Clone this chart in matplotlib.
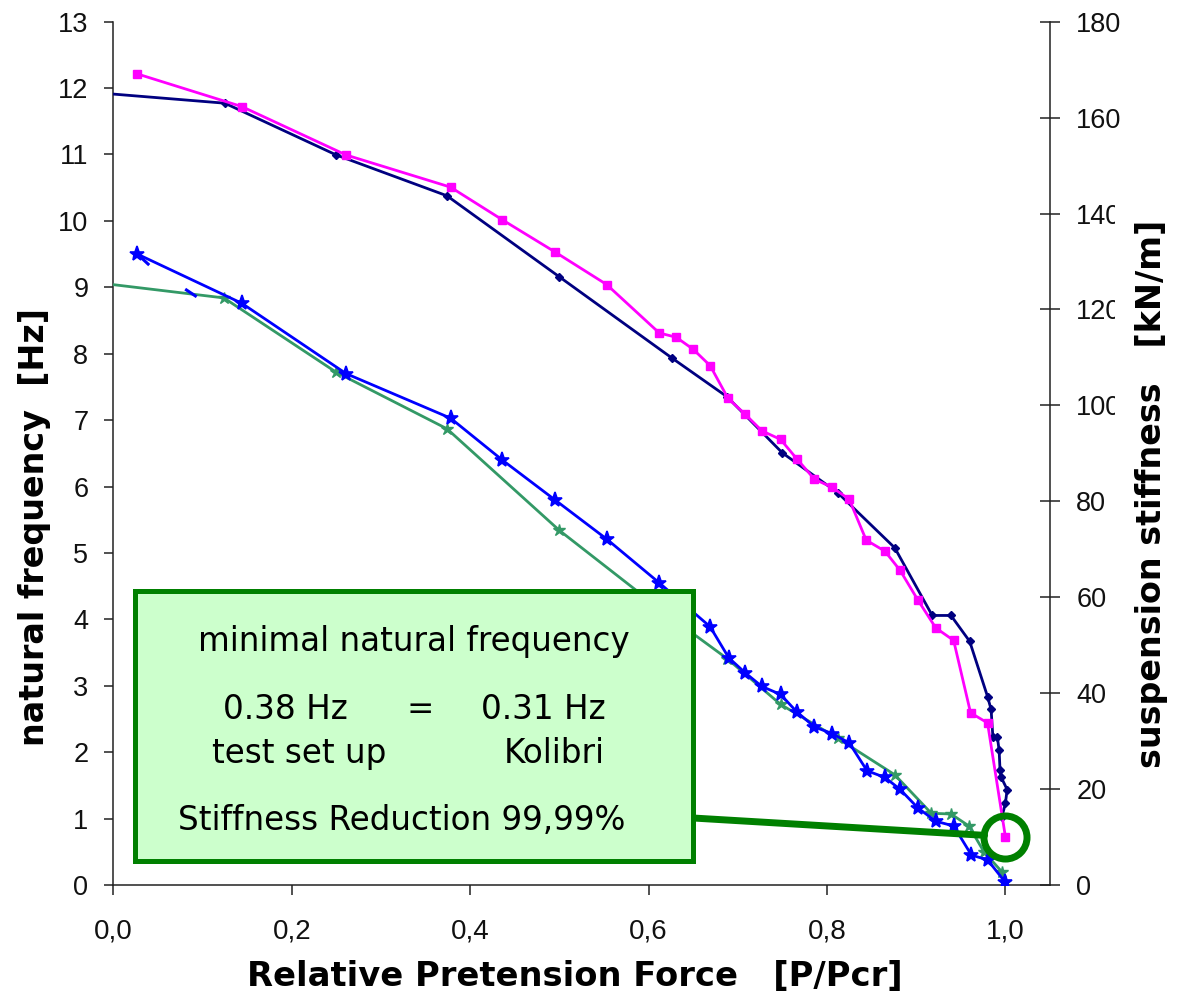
import numpy as np
import matplotlib
matplotlib.use("Agg")
import matplotlib.pyplot as plt
from matplotlib.patches import Rectangle
from matplotlib.ticker import FuncFormatter

# ---- data -------------------------------------------------------------
# natural frequency [Hz], left axis
freq_test_x = [0.027, 0.144, 0.261, 0.378, 0.436, 0.495, 0.553, 0.612, 0.669, 0.690,
               0.708, 0.727, 0.748, 0.766, 0.786, 0.806, 0.825, 0.845, 0.865, 0.882,
               0.902, 0.922, 0.942, 0.962, 0.980, 1.000]
freq_test_y = [9.50, 8.76, 7.70, 7.03, 6.40, 5.80, 5.21, 4.55, 3.89, 3.42,
               3.20, 2.99, 2.87, 2.61, 2.38, 2.28, 2.14, 1.72, 1.62, 1.44,
               1.16, 0.96, 0.89, 0.45, 0.38, 0.04]
freq_stub_x = [0.027, 0.039, np.nan, 0.082, 0.092]
freq_stub_y = [9.50, 9.35, np.nan, 8.96, 8.87]

freq_calc_x = [0.000, 0.124, 0.250, 0.374, 0.500, 0.625, 0.688, 0.748, 0.812, 0.876,
               0.917, 0.939, 0.959, 0.976, 0.996, 1.000]
freq_calc_y = [9.04, 8.84, 7.72, 6.87, 5.34, 4.03, 3.41, 2.72, 2.21, 1.66,
               1.08, 1.07, 0.89, 0.50, 0.20, 0.05]

# suspension stiffness [kN/m], right axis
stiff_test_x = [0.027, 0.144, 0.261, 0.378, 0.436, 0.495, 0.553, 0.612, 0.631, 0.650,
                0.669, 0.689, 0.708, 0.727, 0.748, 0.766, 0.786, 0.806, 0.825, 0.844,
                0.865, 0.882, 0.902, 0.922, 0.942, 0.961, 0.980, 1.000]
stiff_test_y = [169.1, 162.3, 152.2, 145.5, 138.7, 132.0, 125.2, 115.1, 114.2, 111.7,
                108.3, 101.5, 98.2, 94.7, 92.9, 88.9, 84.6, 82.9, 80.4, 71.9,
                69.6, 65.6, 59.4, 53.6, 51.0, 35.9, 33.8, 10.1]

stiff_calc_x = [0.000, 0.125, 0.250, 0.374, 0.500, 0.626, 0.688, 0.750, 0.812, 0.876,
                0.918, 0.939, 0.960, 0.980, 0.984, 0.986, 0.991, 0.993, 0.994, 0.995,
                1.002, 1.000, 0.996]
stiff_calc_y = [164.9, 163.0, 152.2, 143.7, 126.8, 109.9, 101.8, 90.1, 81.8, 70.3,
                56.2, 56.2, 50.8, 39.3, 36.6, 30.9, 30.9, 28.1, 24.0, 22.6,
                19.9, 17.0, 14.1]

x_ticks = [0.0, 0.2, 0.4, 0.6, 0.8, 1.0]
freq_ticks = list(range(0, 14))
stiff_ticks = list(range(0, 181, 20))

# ---- styling ------------------------------------------------------------
plt.rcParams["font.family"] = ["Liberation Sans", "DejaVu Sans"]
TEXT_FONT = ["DejaVu Sans"]
C_PINK = "#FF00FF"
C_NAVY = "#000080"
C_BLUE = "#0000FF"
C_GREEN = "#339966"
C_BOX = "#008000"
AX_COL = "#222222"

fig = plt.figure(figsize=(11.84, 9.98), dpi=100)
ax = fig.add_axes([0.0957, 0.1132, 0.7911, 0.8651])
ax2 = ax.twinx()

# frequency curves
ax.plot(freq_calc_x, freq_calc_y, color=C_GREEN, lw=2.0, marker="*", ms=9,
        mec=C_GREEN, mfc=C_GREEN, markevery=list(range(1, len(freq_calc_x))), zorder=3)
ax.plot(freq_stub_x, freq_stub_y, color=C_BLUE, lw=2.2, zorder=4)
ax.plot(freq_test_x, freq_test_y, color=C_BLUE, lw=2.0, marker="*", ms=11,
        mec=C_BLUE, mfc=C_BLUE, mew=1.2, zorder=4)

# stiffness curves
ax2.plot(stiff_calc_x, stiff_calc_y, color=C_NAVY, lw=2.0, marker="D", ms=4.5,
         mec=C_NAVY, mfc=C_NAVY, markevery=list(range(1, len(stiff_calc_x))), zorder=3)
ax2.plot(stiff_test_x, stiff_test_y, color=C_PINK, lw=2.0, marker="s", ms=6,
         mec=C_PINK, mfc=C_PINK, zorder=4)

# axes limits and ticks
ax.set_xlim(0, 1.05)
ax.set_ylim(0, 13)
ax2.set_ylim(0, 180)
ax.set_xticks(x_ticks)
ax.set_yticks(freq_ticks)
ax2.set_yticks(stiff_ticks)
ax.xaxis.set_major_formatter(FuncFormatter(lambda v, p: f"{v:.1f}".replace(".", ",")))

for a in (ax, ax2):
    a.patch.set_visible(False)
    for s in a.spines.values():
        s.set_color(AX_COL)
        s.set_linewidth(1.1)
    a.spines["top"].set_visible(False)
ax.spines["right"].set_visible(False)
ax2.spines["left"].set_visible(False)
ax2.spines["bottom"].set_visible(False)

ax.tick_params(axis="y", direction="out", length=6.5, width=1.1, color=AX_COL, pad=11.5,
               labelsize=19.5, labelcolor="#111111")
ax.tick_params(axis="x", direction="out", length=7, width=1.1, color=AX_COL, pad=17,
               labelsize=20, labelcolor="#111111")
ax2.tick_params(axis="y", direction="inout", length=14, width=1.1, color=AX_COL, pad=12,
                labelsize=19.5, labelcolor="#111111")

# axis titles
fig.text(575 / 1184, (998 - 986) / 998, "Relative Pretension Force   [P/Pcr]", ha="center",
         va="baseline", fontsize=24.3, fontweight="bold", family=TEXT_FONT)
fig.text(35 / 1184, (998 - 527) / 998, "natural frequency  [Hz]", rotation=90,
         ha="center", va="center", fontsize=24, fontweight="bold", family=TEXT_FONT)
fig.text(1152 / 1184, (998 - 494) / 998, "suspension stiffness   [kN/m]", rotation=90,
         ha="center", va="center", fontsize=24, fontweight="bold", family=TEXT_FONT,
         bbox=dict(boxstyle="square,pad=0.62", fc="white", ec="none"), zorder=5)

# highlight of the lowest stiffness point
ax2.plot(stiff_test_x[-1], stiff_test_y[-1], marker="o", ms=31, mfc="none",
         mec=C_BOX, mew=5, clip_on=False, zorder=10)
box_edge = (693 / 1184, (998 - 818) / 998)
ax2.annotate("", xy=(stiff_test_x[-1], stiff_test_y[-1]), xycoords="data",
             xytext=box_edge, textcoords="figure fraction", annotation_clip=False,
             arrowprops=dict(arrowstyle="-", lw=5, color=C_BOX, shrinkA=0, shrinkB=15),
             zorder=9)

# info box
box = Rectangle((135 / 1184, (998 - 861) / 998), 558.5 / 1184, 270.5 / 998,
                transform=fig.transFigure, fc="#CCFFCC", ec=C_BOX, lw=3.6, zorder=6)
fig.add_artist(box)
txt = dict(fontsize=23.5, family=TEXT_FONT, color="black", va="baseline", ha="center", zorder=7)
fig.text(414 / 1184, (998 - 651) / 998, "minimal natural frequency", **txt)
fig.text(285 / 1184, (998 - 719) / 998, "0.38 Hz", **txt)
fig.text(420 / 1184, (998 - 719) / 998, "=", **txt)
fig.text(543 / 1184, (998 - 719) / 998, "0.31 Hz", **txt)
fig.text(299 / 1184, (998 - 763) / 998, "test set up", **txt)
fig.text(554 / 1184, (998 - 763) / 998, "Kolibri", **txt)
fig.text(402 / 1184, (998 - 830) / 998, "Stiffness Reduction 99,99%", **txt)

fig.savefig("out.png", dpi=100, facecolor="white")
